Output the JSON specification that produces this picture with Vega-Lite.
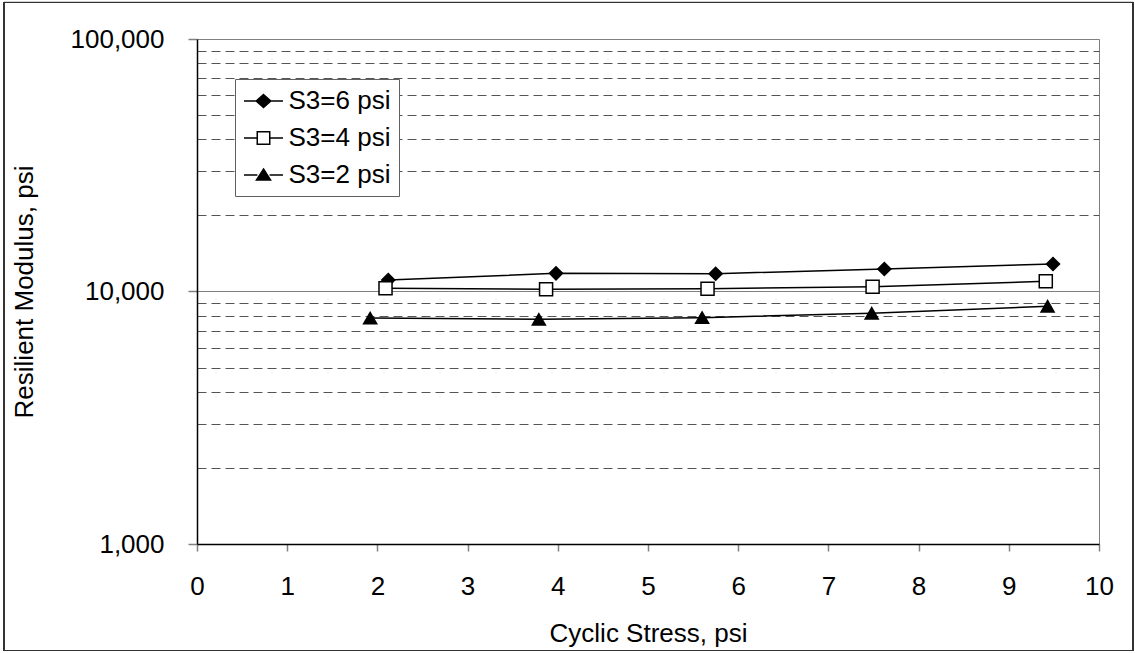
{
  "$schema": "https://vega.github.io/schema/vega-lite/v6.json",
  "width": 902,
  "height": 505,
  "autosize": {"type": "none"},
  "padding": {"left": 197, "top": 39, "right": 36, "bottom": 109},
  "background": "white",
  "config": {
    "font": "Liberation Sans",
    "view": {"stroke": "#808080", "strokeWidth": 1},
    "axis": {
      "labelFont": "Liberation Sans",
      "labelFontSize": 26,
      "labelColor": "black",
      "titleFont": "Liberation Sans",
      "titleFontSize": 26,
      "titleFontWeight": "normal",
      "titleColor": "black",
      "domainColor": "black",
      "domainWidth": 1.5,
      "tickColor": "#808080",
      "tickWidth": 1.5,
      "labelFlush": false,
      "labelOverlap": false
    },
    "legend": {
      "labelFont": "Liberation Sans",
      "labelFontSize": 26,
      "labelColor": "black"
    }
  },
  "data": {
    "values": [
      {"series": "S3=6 psi", "stress": 2.12, "modulus": 11100},
      {"series": "S3=6 psi", "stress": 3.98, "modulus": 11800},
      {"series": "S3=6 psi", "stress": 5.75, "modulus": 11760},
      {"series": "S3=6 psi", "stress": 7.62, "modulus": 12280},
      {"series": "S3=6 psi", "stress": 9.49, "modulus": 12850},
      {"series": "S3=4 psi", "stress": 2.09, "modulus": 10300},
      {"series": "S3=4 psi", "stress": 3.87, "modulus": 10200},
      {"series": "S3=4 psi", "stress": 5.66, "modulus": 10260},
      {"series": "S3=4 psi", "stress": 7.49, "modulus": 10450},
      {"series": "S3=4 psi", "stress": 9.41, "modulus": 10975},
      {"series": "S3=2 psi", "stress": 1.92, "modulus": 7850},
      {"series": "S3=2 psi", "stress": 3.79, "modulus": 7760},
      {"series": "S3=2 psi", "stress": 5.60, "modulus": 7880},
      {"series": "S3=2 psi", "stress": 7.48, "modulus": 8200},
      {"series": "S3=2 psi", "stress": 9.43, "modulus": 8740}
    ]
  },
  "layer": [
    {
      "mark": {"type": "rect", "filled": false, "stroke": "#333333", "strokeWidth": 1},
      "encoding": {
        "x": {"datum": -2.14, "type": "quantitative"},
        "x2": {"datum": 10.377},
        "y": {"datum": 139500, "type": "quantitative"},
        "y2": {"datum": 378.6}
      }
    },
    {
      "mark": {"type": "line", "color": "black", "strokeWidth": 1.5},
      "encoding": {
        "x": {
          "field": "stress",
          "type": "quantitative",
          "scale": {"domain": [0, 10], "nice": false, "zero": false},
          "axis": {
            "title": "Cyclic Stress, psi",
            "format": "d",
            "values": [0, 1, 2, 3, 4, 5, 6, 7, 8, 9, 10],
            "grid": false,
            "tickSize": 7,
            "labelPadding": 22,
            "titlePadding": 21
          }
        },
        "y": {
          "field": "modulus",
          "type": "quantitative",
          "scale": {"type": "log", "domain": [1000, 100000], "nice": false},
          "axis": {
            "title": "Resilient Modulus, psi",
            "format": ",d",
            "values": [1000, 2000, 3000, 4000, 5000, 6000, 7000, 8000, 9000, 10000, 20000, 30000, 40000, 50000, 60000, 70000, 80000, 90000, 100000],
            "labelExpr": "datum.value == 1000 || datum.value == 10000 || datum.value == 100000 ? datum.label : ''",
            "tickSize": 9,
            "labelPadding": 24,
            "titlePadding": 33,
            "tickOpacity": {"condition": {"test": "datum.value == 1000 || datum.value == 10000 || datum.value == 100000", "value": 1}, "value": 0},
            "grid": true,
            "gridColor": {"condition": {"test": "datum.value == 10000", "value": "#808080"}, "value": "#555555"},
            "gridDash": {"condition": {"test": "datum.value == 10000", "value": []}, "value": [9, 5]},
            "gridOpacity": {"condition": {"test": "datum.value == 1000 || datum.value == 100000", "value": 0}, "value": 1},
            "gridWidth": 1
          }
        },
        "detail": {"field": "series"}
      }
    },
    {
      "mark": {"type": "point", "filled": true, "stroke": "black", "strokeWidth": 1.5, "opacity": 1},
      "encoding": {
        "x": {"field": "stress", "type": "quantitative"},
        "y": {"field": "modulus", "type": "quantitative"},
        "shape": {
          "field": "series",
          "type": "nominal",
          "scale": {"domain": ["S3=2 psi", "S3=4 psi", "S3=6 psi"], "range": ["triangle-up", "square", "diamond"]},
          "legend": null
        },
        "fill": {
          "field": "series",
          "type": "nominal",
          "scale": {"domain": ["S3=6 psi", "S3=4 psi", "S3=2 psi"], "range": ["black", "white", "black"]},
          "legend": {
            "title": null,
            "orient": "none",
            "legendX": 38,
            "legendY": 40,
            "strokeColor": "#606060",
            "fillColor": "white",
            "padding": 8,
            "rowPadding": 10,
            "symbolSize": 676,
            "symbolOffset": 6.5,
            "labelOffset": 11,
            "symbolStrokeColor": "black",
            "symbolStrokeWidth": 1.5,
            "symbolOpacity": 1,
            "symbolType": {"expr": "datum.value === 'S3=6 psi' ? 'M-1.5,0H-0.5M0.5,0H1.5M0,-0.5L0.56,0L0,0.5L-0.56,0Z' : datum.value === 'S3=4 psi' ? 'M-1.5,0H-0.48M0.48,0H1.5M-0.48,-0.48H0.48V0.48H-0.48Z' : 'M-1.5,0H-0.47M0.47,0H1.5M0,-0.46L0.54,0.38L-0.54,0.38Z'"}
          }
        },
        "size": {"value": 170}
      }
    }
  ]
}
